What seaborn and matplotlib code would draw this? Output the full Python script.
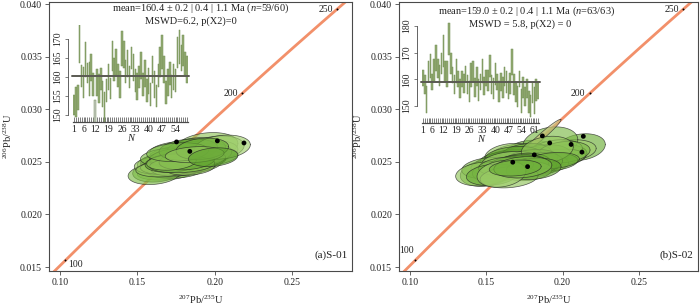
import numpy as np
import matplotlib
matplotlib.use('Agg')
import matplotlib.pyplot as plt
import seaborn as sns

# decay constants (1/Myr)
L238 = 1.55125e-4
L235 = 9.8485e-4

# labelled ages on the concordia (Ma)
conc_ages = [100, 200, 250]

# ---- (a) S-01 : single grain 206Pb/238U ages (Ma) and errors
a_age = [152.6, 153.5, 154.6, 168.7, 160.3, 158.6, 164.6, 161.0, 159.5, 162.5,
         158.0, 150.5, 158.5, 157.0, 159.5, 155.5, 152.0, 156.5, 160.0, 157.0,
         165.5, 162.0, 164.0, 160.5, 158.0, 167.5, 166.0, 161.5, 163.5, 160.0,
         165.0, 162.5, 159.0, 157.5, 160.0, 163.0, 158.0, 161.0, 156.5, 159.0,
         155.5, 162.0, 158.0, 155.0, 160.5, 164.0, 166.5, 162.0, 156.0, 158.5,
         161.0, 157.5, 160.0, 159.0, 166.5, 168.0, 165.0, 167.0, 163.5, 162.0]
a_err = [2.7, 4.0, 3.3, 5.0, 2.9, 4.0, 4.6, 2.6, 4.5, 3.5,
         3.0, 3.5, 3.5, 3.8, 3.0, 3.5, 4.0, 3.0, 3.5, 2.8,
         4.0, 3.0, 3.5, 3.0, 3.5, 4.5, 3.5, 3.0, 3.5, 3.0,
         3.0, 3.5, 3.0, 3.5, 2.8, 3.5, 3.0, 3.5, 3.0, 3.5,
         3.0, 3.5, 3.5, 3.0, 3.0, 4.0, 4.5, 3.5, 3.0, 3.5,
         3.0, 3.0, 3.5, 3.0, 4.0, 4.5, 3.5, 4.0, 3.0, 3.5]
a_rejected = [12]
a_x = [0.168, 0.163, 0.175, 0.195, 0.182, 0.171, 0.190, 0.178, 0.186, 0.175,
       0.180, 0.166, 0.169, 0.177, 0.184, 0.172, 0.161, 0.180, 0.176, 0.168,
       0.197, 0.183, 0.188, 0.173, 0.186, 0.201, 0.178, 0.192, 0.180, 0.170,
       0.185, 0.196, 0.176, 0.165, 0.189, 0.181, 0.174, 0.185, 0.170, 0.179,
       0.176, 0.171, 0.183, 0.167, 0.180, 0.194, 0.188, 0.178, 0.184, 0.173,
       0.190, 0.179, 0.182, 0.172, 0.183, 0.205, 0.176, 0.192, 0.187, 0.199]
a_sx = [0.018, 0.016, 0.019, 0.020, 0.017, 0.021, 0.018, 0.016, 0.020, 0.017,
        0.019, 0.018, 0.017, 0.020, 0.018, 0.016, 0.017, 0.019, 0.021, 0.016,
        0.018, 0.020, 0.017, 0.019, 0.016, 0.018, 0.020, 0.017, 0.022, 0.018,
        0.016, 0.019, 0.020, 0.017, 0.018, 0.021, 0.016, 0.019, 0.018, 0.020,
        0.017, 0.019, 0.016, 0.018, 0.022, 0.017, 0.019, 0.020, 0.016, 0.018,
        0.017, 0.021, 0.018, 0.016, 0.019, 0.018, 0.020, 0.017, 0.019, 0.016]
a_dots_x = [0.1753, 0.2017, 0.2189, 0.1839]
a_dots_y = [0.0269, 0.0270, 0.0268, 0.0260]
a_ticks = [1, 6, 12, 19, 26, 33, 40, 47, 54]

# ---- (b) S-02
b_age = [160.5, 158.0, 152.5, 163.0, 165.0, 159.0, 163.5, 168.0, 164.0, 161.5,
         166.0, 170.5, 163.0, 162.0, 175.0, 166.0, 161.5, 158.0, 163.0, 160.0,
         156.5, 160.0, 158.5, 162.0, 158.0, 155.5, 161.5, 163.0, 157.0, 161.0,
         156.0, 159.0, 163.0, 157.5, 160.5, 159.5, 165.0, 158.0, 156.5, 162.0,
         159.0, 155.5, 159.0, 157.0, 161.0, 159.0, 156.0, 158.5, 166.5, 158.0,
         155.0, 153.5, 160.0, 152.0, 157.0, 153.5, 156.5, 151.5, 150.0, 155.0,
         152.0, 156.0, 155.5]
b_err = [3.0, 3.5, 5.0, 4.0, 4.5, 3.0, 4.0, 5.0, 3.5, 4.0,
         4.0, 6.0, 4.0, 5.0, 6.0, 4.0, 3.0, 3.5, 4.5, 3.0,
         3.5, 3.0, 3.5, 3.0, 3.5, 4.0, 4.5, 4.0, 3.5, 3.5,
         4.0, 3.0, 4.5, 3.5, 3.0, 4.0, 4.0, 3.5, 4.0, 4.0,
         3.0, 4.0, 3.5, 4.0, 3.5, 4.0, 3.5, 4.0, 5.0, 4.0,
         3.5, 4.0, 3.0, 4.5, 4.0, 3.5, 3.5, 4.0, 4.0, 4.0,
         5.0, 4.0, 3.0]
b_x = [0.172, 0.160, 0.150, 0.185, 0.178, 0.168, 0.192, 0.212, 0.180, 0.175,
       0.205, 0.192, 0.200, 0.170, 0.187, 0.196, 0.182, 0.176, 0.165, 0.186,
       0.158, 0.178, 0.169, 0.198, 0.181, 0.163, 0.174, 0.188, 0.177, 0.167,
       0.172, 0.183, 0.176, 0.186, 0.162, 0.179, 0.201, 0.170, 0.182, 0.168,
       0.175, 0.152, 0.190, 0.173, 0.180, 0.166, 0.178, 0.184, 0.190, 0.174,
       0.168, 0.157, 0.194, 0.148, 0.171, 0.177, 0.163, 0.154, 0.165, 0.181,
       0.160, 0.174, 0.169]
b_sx = [0.016, 0.018, 0.017, 0.019, 0.016, 0.020, 0.017, 0.016, 0.018, 0.019,
        0.017, 0.018, 0.016, 0.019, 0.012, 0.017, 0.018, 0.020, 0.016, 0.017,
        0.018, 0.019, 0.016, 0.017, 0.020, 0.018, 0.016, 0.017, 0.019, 0.018,
        0.016, 0.020, 0.017, 0.018, 0.016, 0.019, 0.017, 0.018, 0.016, 0.019,
        0.017, 0.018, 0.020, 0.016, 0.017, 0.019, 0.018, 0.016, 0.017, 0.018,
        0.019, 0.016, 0.017, 0.018, 0.020, 0.016, 0.018, 0.017, 0.019, 0.018,
        0.016, 0.019, 0.017]
b_rho_special = {15: 0.97}
b_dots_x = [0.1868, 0.2136, 0.1916, 0.2056, 0.1815, 0.1674, 0.1771, 0.2127]
b_dots_y = [0.02747, 0.02743, 0.0268, 0.02666, 0.02567, 0.02497, 0.02455, 0.02593]
b_ticks = [1, 6, 12, 19, 26, 33, 40, 47, 54, 61]

W, H = 700, 305


def fig_rect(x0, y0, x1, y1):
    # pixel box (top-left origin) -> figure fraction
    return [x0 / W, 1 - y1 / H, (x1 - x0) / W, (y1 - y0) / H]


def ratios(t):
    t = np.asarray(t, dtype=float)
    return np.exp(L235 * t) - 1, np.exp(L238 * t) - 1


sns.set_theme(style='ticks')
plt.rcParams['font.family'] = ['Liberation Serif', 'DejaVu Serif']
plt.rcParams['mathtext.fontset'] = 'custom'
plt.rcParams['mathtext.rm'] = 'Liberation Serif'
plt.rcParams['mathtext.it'] = 'Liberation Serif:italic'

fig = plt.figure(figsize=(7, 3.05), dpi=100)

greens = ['#9fce6c', '#7dbb48', '#6cae38', '#92c65c', '#5fa22e']
spine_c = '#4a4a4a'


def main_panel(rect, ages, errs, xs, sxs, dots_x, dots_y, rejected, rho_special, label_offsets, tag):
    ax = fig.add_axes(rect)
    ax.set_xlim(0.0929, 0.2887)
    ax.set_ylim(0.01462, 0.04021)

    # concordia
    t = np.linspace(80, 275, 200)
    cx, cy = ratios(t)
    sns.lineplot(x=cx, y=cy, sort=False, ax=ax, color='#f2906a', lw=2.0, zorder=1)
    tx, ty = ratios(conc_ages)
    ax.scatter(tx, ty, s=2, color='black', linewidths=0, zorder=2)
    for a, x, y, (dx, dy, ha) in zip(conc_ages, tx, ty, label_offsets):
        ax.annotate(str(a), (x, y), xytext=(dx, dy), textcoords='offset points',
                    ha=ha, va='center', fontsize=7, color='#222222', zorder=2)

    # error ellipses
    yc = np.exp(L238 * np.array(ages)) - 1
    sy = (np.exp(L238 * (np.array(ages) + np.array(errs))) - 1 - yc) * 1.6
    th = np.linspace(0, 2 * np.pi, 90)
    for i in range(len(ages)):
        rho = rho_special.get(i + 1, 0.2)
        ex = xs[i] + sxs[i] * np.cos(th)
        ey = yc[i] + sy[i] * (rho * np.cos(th) + np.sqrt(1 - rho ** 2) * np.sin(th))
        if (i + 1) in rejected:
            continue
        fc = '#c9c27a' if rho > 0.9 else greens[i % len(greens)]
        ax.fill(ex, ey, facecolor=fc, alpha=0.65, edgecolor='none', zorder=3)
        ax.plot(ex, ey, color='#222222', lw=0.5, alpha=0.75, zorder=3)
    sns.scatterplot(x=dots_x, y=dots_y, ax=ax, color='black', s=12, edgecolor='none', zorder=5)

    ax.set_xticks([0.10, 0.15, 0.20, 0.25])
    ax.set_xticklabels(['0.10', '0.15', '0.20', '0.25'])
    ax.set_yticks([0.015, 0.020, 0.025, 0.030, 0.035, 0.040])
    ax.set_yticklabels(['0.015', '0.020', '0.025', '0.030', '0.035', '0.040'])
    ax.tick_params(direction='out', length=3, width=0.6, colors=spine_c,
                   labelsize=7, labelcolor='#222222', pad=2)
    for s in ax.spines.values():
        s.set_color(spine_c)
        s.set_linewidth(0.8)
    ax.set_xlabel(r'$^{207}$Pb/$^{235}$U', fontsize=7.5, color='#222222', labelpad=5)
    ax.set_ylabel(r'$^{206}$Pb/$^{238}$U', fontsize=7.5, color='#222222', labelpad=4)
    ax.text(0.985, 0.06, tag, transform=ax.transAxes, ha='right', va='center',
            fontsize=8, color='#222222')
    return ax


def inset(rect, ages, errs, rejected, ylim, yticks, ticklabels_at, mean):
    ax = fig.add_axes(rect)
    n = len(ages)
    idx = np.arange(1, n + 1)
    ages = np.array(ages)
    errs = np.array(errs)
    cols = ['#c4c8c2' if i in rejected else '#93ab73' for i in idx]
    ax.bar(idx, 2 * errs, bottom=ages - errs, width=0.8, color=cols,
           edgecolor='#738f55', linewidth=0.35, clip_on=True)
    ax.plot([0.2, n + 0.8], [mean, mean], color='#5a5a52', lw=1.4, zorder=3, clip_on=False)
    ax.set_xlim(0.5, n + 0.5)
    ax.set_ylim(*ylim)
    ax.patch.set_alpha(0)
    for s in ['top', 'right']:
        ax.spines[s].set_visible(False)
    ax.spines['left'].set_position(('outward', 3.5))
    ax.spines['left'].set_bounds(yticks[0], yticks[-1])
    ax.spines['left'].set_color(spine_c)
    ax.spines['left'].set_linewidth(0.6)
    ax.spines['bottom'].set_color(spine_c)
    ax.spines['bottom'].set_linewidth(0.9)
    ax.set_yticks(yticks)
    ax.set_yticklabels([str(v) for v in yticks], rotation=90, va='center')
    ax.set_xticks(idx)
    ax.set_xticklabels([str(i) if i in ticklabels_at else '' for i in idx])
    ax.tick_params(axis='x', direction='in', length=3.5, width=0.5, colors=spine_c,
                   labelsize=7, labelcolor='#222222', pad=2.5)
    ax.tick_params(axis='y', direction='out', length=2.5, width=0.5, colors=spine_c,
                   labelsize=7, labelcolor='#222222', pad=1.5)
    ax.set_xlabel('N', fontstyle='italic', fontsize=7.5, color='#222222', labelpad=0)
    return ax


main_panel(fig_rect(49, 2, 352, 271), a_age, a_err, a_x, a_sx, a_dots_x, a_dots_y,
           a_rejected, {}, [(2, -3, 'left'), (-3, 0, 'right'), (-3, 0, 'right')], '(a)S-01')
inset(fig_rect(73, 25, 188, 122), a_age, a_err, a_rejected, (148.16, 173.7),
      [150, 155, 160, 165, 170], a_ticks, 160.4)
fig.text(201 / W, 1 - 8.5 / H, r'mean=160.4 ± 0.2 | 0.4 | 1.1 Ma ($n$=59/60)',
         ha='center', va='center', fontsize=7.5, color='#222222')
fig.text(191 / W, 1 - 21.5 / H, 'MSWD=6.2, p(X2)=0',
         ha='center', va='center', fontsize=7.5, color='#222222')

main_panel(fig_rect(399, 2, 698, 271), b_age, b_err, b_x, b_sx, b_dots_x, b_dots_y,
           [], b_rho_special, [(-6, 7, 'center'), (-3, 0, 'right'), (-3, 0, 'right')], '(b)S-02')
inset(fig_rect(422, 20, 539, 123), b_age, b_err, [], (143.6, 182.25),
      [150, 160, 170, 180], b_ticks, 159.0)
fig.text(527 / W, 1 - 11.5 / H, r'mean=159.0 ± 0.2 | 0.4 | 1.1 Ma ($n$=63/63)',
         ha='center', va='center', fontsize=7.5, color='#222222')
fig.text(520 / W, 1 - 24 / H, 'MSWD = 5.8, p(X2) = 0',
         ha='center', va='center', fontsize=7.5, color='#222222')

fig.savefig('out.png', dpi=100)
